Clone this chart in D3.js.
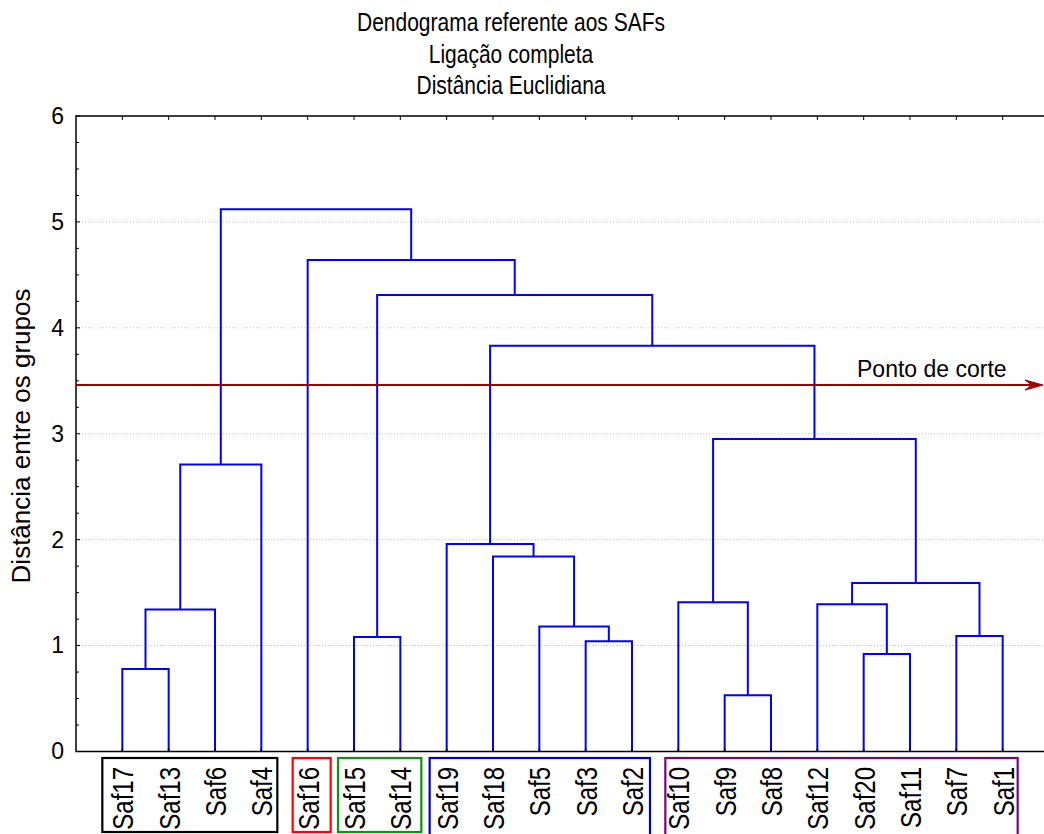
<!DOCTYPE html>
<html>
<head>
<meta charset="utf-8">
<script src="https://cdn.jsdelivr.net/npm/d3@7"></script>
<style>
  html, body { margin: 0; padding: 0; background: #fff; }
  svg { display: block; }
  text { font-family: "Liberation Sans", Arial, sans-serif; fill: #000; }
</style>
</head>
<body>
<svg id="chart" width="1044" height="834"></svg>
<script>
// ---------------- data ----------------
const titleLines = ["Dendograma referente aos SAFs", "Ligação completa", "Distância Euclidiana"];
const yAxisLabel = "Distância entre os grupos";
const cutLabel = "Ponto de corte";

const leaves = ["Saf17","Saf13","Saf6","Saf4","Saf16","Saf15","Saf14","Saf19","Saf18","Saf5",
                "Saf3","Saf2","Saf10","Saf9","Saf8","Saf12","Saf20","Saf11","Saf7","Saf1"];

const mergeIds    = ["m1","m2","m3","m4","m5","m6","m7","m8","m9","m10","m11","m12","m13","m14","m15","m16","m17","m18","m19"];
const mergeLeft   = ["Saf17","m1","m2","Saf15","Saf3","Saf5","Saf18","Saf19","Saf9","Saf10","Saf20","Saf12","Saf7","m12","m10","m8","m4","Saf16","m3"];
const mergeRight  = ["Saf13","Saf6","Saf4","Saf14","Saf2","m5","m6","m7","Saf8","m9","Saf11","m11","Saf1","m13","m14","m15","m16","m17","m18"];
const mergeHeights = [0.78, 1.34, 2.71, 1.08, 1.04, 1.18, 1.84, 1.96, 0.53, 1.41, 0.92, 1.39, 1.09, 1.59, 2.95, 3.83, 4.31, 4.64, 5.12];

const cutHeight = 3.46;
const yTicks = [0, 1, 2, 3, 4, 5, 6];
const yMinorTicks = d3.range(0, 6.001, 0.25);

const groupFirst  = ["Saf17","Saf16","Saf15","Saf19","Saf10"];
const groupLast   = ["Saf4","Saf16","Saf14","Saf2","Saf1"];
const groupColors = ["#000000","#ff0000","#0a960a","#0000c8","#800080"];

// ---------------- layout ----------------
const svg = d3.select("#chart");
const plotLeft = 76, plotTop = 116, plotBottom = 751.5, plotRight = 1049;

const x = d3.scalePoint().domain(leaves).range([plotLeft, plotRight]).padding(1);
const y = d3.scaleLinear().domain([0, 6]).range([plotBottom, plotTop]);

// title (slightly condensed look)
svg.append("g").selectAll("text").data(titleLines).join("text")
  .attr("transform", (d, i) => `translate(511,${31 + i * 31.5}) scale(1,1.22)`)
  .attr("text-anchor", "middle").style("font-size", "21px")
  .text(d => d);

// grid
svg.append("g").selectAll("line").data(yTicks.filter(t => t > 0 && t < 6)).join("line")
  .attr("x1", plotLeft).attr("x2", plotRight)
  .attr("y1", d => y(d)).attr("y2", d => y(d))
  .attr("stroke", "#c8c8c8").attr("stroke-width", 1).attr("stroke-dasharray", "1,2");

// dendrogram
const pos = {};
leaves.forEach(l => pos[l] = { x: x(l), h: 0 });
const links = [];
mergeIds.forEach((id, i) => {
  const a = pos[mergeLeft[i]], b = pos[mergeRight[i]], h = mergeHeights[i];
  pos[id] = { x: (a.x + b.x) / 2, h: h };
  links.push({ a, b, h });
});
const line = d3.line();
svg.append("g").selectAll("path").data(links).join("path")
  .attr("d", d => line([[d.a.x, y(d.a.h)], [d.a.x, y(d.h)], [d.b.x, y(d.h)], [d.b.x, y(d.b.h)]]))
  .attr("fill", "none").attr("stroke", "#0000ff").attr("stroke-width", 2);

// frame / axes
svg.append("rect").attr("x", plotLeft).attr("y", plotTop)
  .attr("width", plotRight - plotLeft).attr("height", plotBottom - plotTop)
  .attr("fill", "none").attr("stroke", "#000").attr("stroke-width", 1.5);

const yAxis = d3.axisLeft(y).tickValues(yTicks).tickFormat(d3.format("d")).tickSize(0).tickPadding(12);
const gy = svg.append("g").attr("transform", `translate(${plotLeft},0)`).call(yAxis);
gy.attr("font-size", null).attr("font-family", null);
gy.select(".domain").remove();
gy.selectAll("text").style("font-size", "23px").attr("fill", "#000");

// inward ticks on the left
svg.append("g").selectAll("line").data(yMinorTicks).join("line")
  .attr("x1", plotLeft).attr("x2", d => plotLeft + (Number.isInteger(d) ? 4 : 3))
  .attr("y1", d => y(d)).attr("y2", d => y(d))
  .attr("stroke", "#000").attr("stroke-width", 1);
// top ticks at leaves
svg.append("g").selectAll("line").data(leaves).join("line")
  .attr("x1", d => x(d)).attr("x2", d => x(d))
  .attr("y1", plotTop).attr("y2", plotTop + 4)
  .attr("stroke", "#000").attr("stroke-width", 1);
// bottom ticks
svg.append("g").selectAll("line").data(leaves).join("line")
  .attr("x1", d => x(d)).attr("x2", d => x(d))
  .attr("y1", plotBottom).attr("y2", plotBottom - 3)
  .attr("stroke", "#000").attr("stroke-width", 1.5);

// leaf labels
svg.append("g").selectAll("text").data(leaves).join("text")
  .attr("transform", d => `translate(${x(d) + 11},767) rotate(-90) scale(1,1.22)`)
  .attr("text-anchor", "end").style("font-size", "24px")
  .text(d => d);

// group boxes
const padL = [20, 15, 16, 17, 13], padR = [16, 23, 21, 18, 15];
const boxBottom = [832, 832, 832, 838, 838];
svg.append("g").selectAll("rect").data(groupFirst).join("rect")
  .attr("x", (d, i) => x(d) - padL[i])
  .attr("y", 758)
  .attr("width", (d, i) => x(groupLast[i]) + padR[i] - (x(d) - padL[i]))
  .attr("height", (d, i) => boxBottom[i] - 758)
  .attr("fill", "none").attr("stroke", (d, i) => groupColors[i]).attr("stroke-width", 2.2);

// cut line with arrow
const yc = y(cutHeight);
svg.append("line").attr("x1", plotLeft).attr("x2", 1036).attr("y1", yc).attr("y2", yc)
  .attr("stroke", "#a00000").attr("stroke-width", 2);
svg.append("path")
  .attr("d", `M1043,${yc} L1025,${yc - 5} L1032,${yc} L1025,${yc + 5} Z`)
  .attr("fill", "#a00000").attr("stroke", "#a00000").attr("stroke-width", 1);
svg.append("text").attr("x", 857).attr("y", yc - 8.5).style("font-size", "23px").text(cutLabel);

// y label
svg.append("text").attr("transform", `translate(30,436) rotate(-90)`)
  .attr("text-anchor", "middle").style("font-size", "26px").text(yAxisLabel);
</script>
</body>
</html>
